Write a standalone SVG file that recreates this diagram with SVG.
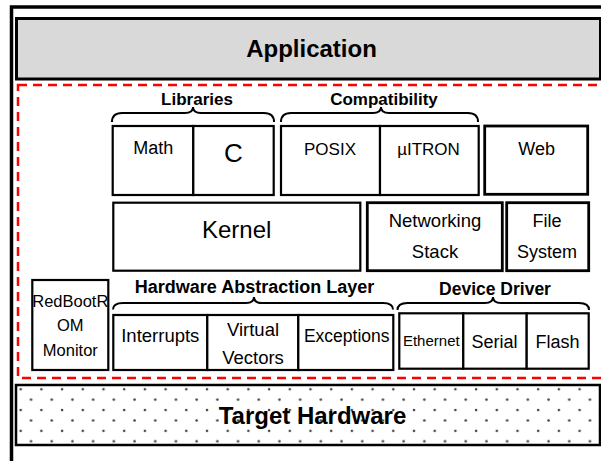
<svg xmlns="http://www.w3.org/2000/svg" width="601" height="461" viewBox="0 0 601 461">
<defs>
<pattern id="dots" patternUnits="userSpaceOnUse" x="15.7" y="384.3" width="20.7" height="20.8">
<circle cx="5" cy="5" r="1.3" fill="#444"/>
<circle cx="15.35" cy="15.4" r="1.3" fill="#444"/>
</pattern>
<style>
.box{fill:#fff;stroke:#000;stroke-width:2.2}
.boxb{fill:#fff;stroke:#000;stroke-width:2.8}
.t{font-family:"Liberation Sans",Arial,sans-serif;fill:#000;text-anchor:middle}
.b{font-family:"Liberation Sans",Arial,sans-serif;font-weight:bold;fill:#000;text-anchor:middle}
.brace{fill:none;stroke:#000;stroke-width:2}
</style>
</defs>
<rect width="601" height="461" fill="#fff"/>
<rect x="11.5" y="7" width="700" height="500" fill="none" stroke="#000" stroke-width="3.5"/>

<g id="application">
<rect x="16.5" y="18.5" width="584" height="60.5" fill="#d9d9d9" stroke="#000" stroke-width="3"/>
<text class="b" x="311.5" y="57" font-size="24">Application</text>
</g>

<rect id="ecos-boundary" x="18" y="85" width="700" height="293" fill="none" stroke="#ff0000" stroke-width="2.5" stroke-dasharray="9 6"/>

<g id="braces">
<path class="brace" d="M112,122 Q112,113 122,113 L185,113 Q193,113 193,107 Q193,113 201,113 L264,113 Q274,113 274,122"/>
<path class="brace" d="M281,122 Q281,113 291,113 L373,113 Q381,113 381,107 Q381,113 389,113 L468,113 Q478,113 478,122"/>
<path class="brace" d="M113,309.5 Q113,303 123,303 L246,303 Q254,303 254,297 Q254,303 262,303 L383,303 Q393,303 393,309.5"/>
<path class="brace" d="M397.5,310 Q397.5,303 407.5,303 L485,303 Q493,303 493,297 Q493,303 501,303 L579,303 Q589,303 589,310"/>
</g>

<g id="libraries-label"><text class="b" x="197" y="105" font-size="17">Libraries</text></g>
<g id="compatibility-label"><text class="b" x="384" y="105" font-size="17">Compatibility</text></g>

<g id="math">
<rect class="box" x="112.7" y="126" width="80.6" height="69"/>
<text class="t" x="153.3" y="154" font-size="18">Math</text>
</g>
<g id="c">
<rect class="box" x="193.3" y="126" width="80.4" height="69"/>
<text class="t" x="233.3" y="161.5" font-size="26">C</text>
</g>
<g id="posix">
<rect class="box" x="281" y="126" width="99" height="69"/>
<text class="t" x="330" y="155" font-size="17">POSIX</text>
</g>
<g id="uitron">
<rect class="box" x="380" y="126" width="98.7" height="69"/>
<text class="t" x="428.5" y="155" font-size="17">µITRON</text>
</g>
<g id="web">
<rect class="boxb" x="484.7" y="126" width="103" height="68.3"/>
<text class="t" x="536.7" y="155" font-size="18">Web</text>
</g>

<g id="kernel">
<rect class="box" x="113.3" y="202.7" width="247" height="68"/>
<text class="t" x="236.7" y="238.3" font-size="24">Kernel</text>
</g>
<g id="networking-stack">
<rect class="boxb" x="367.3" y="202.7" width="135" height="68"/>
<text class="t" x="435" y="226.7" font-size="18.5">Networking</text>
<text class="t" x="435" y="258.3" font-size="18.5">Stack</text>
</g>
<g id="file-system">
<rect class="boxb" x="506.7" y="202.7" width="82" height="68"/>
<text class="t" x="547" y="226.7" font-size="18">File</text>
<text class="t" x="547" y="258.3" font-size="18">System</text>
</g>

<g id="redboot">
<rect class="box" x="32.3" y="280" width="76" height="90"/>
<text class="t" x="70.3" y="306.7" font-size="16.5">RedBootR</text>
<text class="t" x="70.3" y="330.5" font-size="16.5">OM</text>
<text class="t" x="70.3" y="356" font-size="16.5">Monitor</text>
</g>

<g id="hal-label"><text class="b" x="254.5" y="293.3" font-size="18">Hardware Abstraction Layer</text></g>
<g id="device-driver-label"><text class="b" x="495" y="295" font-size="17.5">Device Driver</text></g>

<g id="interrupts">
<rect class="box" x="113.3" y="315" width="94" height="55"/>
<text class="t" x="160.3" y="341.7" font-size="18.5">Interrupts</text>
</g>
<g id="virtual-vectors">
<rect class="box" x="207.3" y="315" width="91" height="55"/>
<text class="t" x="253" y="336" font-size="18.5">Virtual</text>
<text class="t" x="253" y="364" font-size="18.5">Vectors</text>
</g>
<g id="exceptions">
<rect class="box" x="298.3" y="315" width="95" height="55"/>
<text class="t" x="346.7" y="341.7" font-size="17.5">Exceptions</text>
</g>

<g id="ethernet">
<rect class="box" x="399.3" y="313.3" width="64" height="55.4"/>
<text class="t" x="431.3" y="346" font-size="15">Ethernet</text>
</g>
<g id="serial">
<rect class="box" x="463.3" y="313.3" width="63.4" height="55.4"/>
<text class="t" x="494.5" y="348.3" font-size="18">Serial</text>
</g>
<g id="flash">
<rect class="box" x="526.7" y="313.3" width="62" height="55.4"/>
<text class="t" x="557.5" y="348.3" font-size="18">Flash</text>
</g>

<g id="target-hardware">
<rect x="16" y="385" width="584" height="60" fill="#fff" stroke="none"/>
<rect x="16" y="385" width="584" height="60" fill="url(#dots)" stroke="#000" stroke-width="2.5"/>
<text class="b" x="312.5" y="424" font-size="24">Target Hardware</text>
</g>
</svg>
